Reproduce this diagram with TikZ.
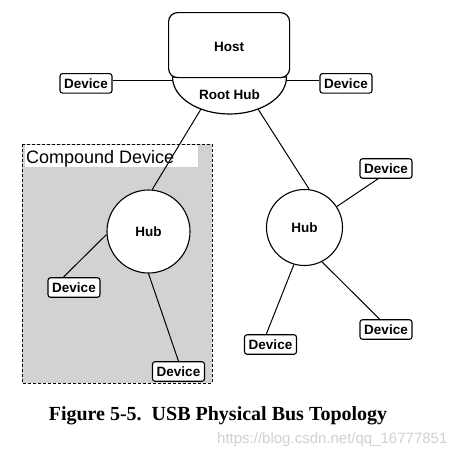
\documentclass[tikz,border=0pt]{standalone}
\usepackage{fontspec}
\newfontfamily\arialf{Liberation Sans}
\newfontfamily\timesf{Liberation Serif}
\usetikzlibrary{calc}
\definecolor{cgray}{RGB}{210,210,210}
\begin{document}
\begin{tikzpicture}[x=1pt,y=-1pt,
  bold/.style={font=\arialf\bfseries\fontsize{13.5}{15}\selectfont},
  dev/.style={bold, draw, rounded corners=2.5pt, line width=1.1pt, fill=white,
    minimum width=52pt, minimum height=19.5pt, inner sep=0pt},
  hub/.style={bold, circle, draw, line width=1.1pt, fill=white, inner sep=0pt},
  wire/.style={line width=1pt},
  lbl/.style={inner sep=0pt}]
\useasboundingbox (0,0) rectangle (465,456);
\fill[white] (0,0) rectangle (465,456);
% compound device area
\draw[fill=cgray, line width=0.6pt, dash pattern=on 3pt off 2pt] (22,144) rectangle (212,383);
\node[fill=white, inner sep=0pt, minimum width=173pt, minimum height=22pt, anchor=north west] (cdbox) at (25,145) {};
\node[lbl, anchor=base west, font=\arialf\fontsize{18}{20}\selectfont] (cdtext) at (26,163.3) {Compound Device};
% root hub and host
\draw[line width=1.2pt, fill=white] (172.5,77) arc[start angle=180, end angle=0, x radius=57, y radius=37] -- cycle;
\node[draw, rounded corners=9pt, line width=1.2pt, minimum width=121pt, minimum height=65pt, anchor=north west, fill=white] (host) at (168,12) {};
\node[lbl, bold] (hosttext) at (229,47) {Host};
\node[lbl, bold] (roottext) at (229.5,95) {Root Hub};
\coordinate (rhL) at (172.8,80.5);
\coordinate (rhR) at (286.2,80.5);
\coordinate (rhBL) at (201,109);
\coordinate (rhBR) at (258,109);
% hubs
\node[hub, minimum size=83pt] (hubL) at (148.5,231.5) {Hub};
\node[hub, minimum size=76pt] (hubR) at (304.5,227.5) {Hub};
% devices
\node[dev] (devA) at (86,83.3) {Device};
\node[dev] (devB) at (346,83.3) {Device};
\node[dev] (devC) at (74,287.5) {Device};
\node[dev] (devD) at (178.5,371.5) {Device};
\node[dev] (devE) at (386,168.5) {Device};
\node[dev] (devF) at (386,329.5) {Device};
\node[dev] (devG) at (270.5,344.5) {Device};
% wires
\draw[wire] (rhL -| devA.east) -- (rhL);
\draw[wire] (rhR) -- (rhR -| devB.west);
\draw[wire] (rhBL) -- (hubL.85);
\draw[wire] (rhBR) -- (hubR.83);
\draw[wire] (hubL.184) -- ($(devC.north west)!0.3!(devC.north east)$);
\draw[wire] (hubL.270) -- (devD.north);
\draw[wire] (hubR.33) -- ($(devE.south west)!0.35!(devE.south east)$);
\draw[wire] (hubR.-63) -- ($(devF.north west)!0.38!(devF.north east)$);
\draw[wire] (hubR.254) -- ($(devG.north west)!0.42!(devG.north east)$);
% caption
\node[lbl, anchor=base, font=\timesf\bfseries\fontsize{20}{22}\selectfont] (cap) at (218,420.5) {Figure 5-5.\ \ USB Physical Bus Topology};
\node[lbl, anchor=base west, text=black!18, font=\arialf\fontsize{15}{17}\selectfont] (wm) at (217,443) {https://blog.csdn.net/qq\_16777851};
\end{tikzpicture}
\end{document}
